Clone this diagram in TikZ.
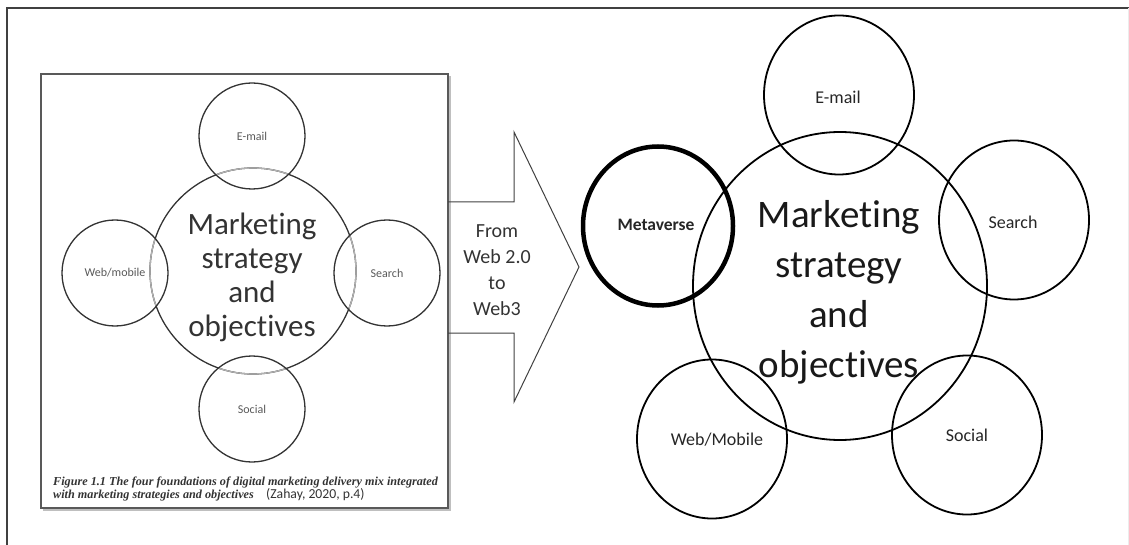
\documentclass[tikz,border=0pt]{standalone}
\usepackage{fontspec}
\setmainfont[Ligatures=NoCommon]{Carlito}
\newfontfamily\capserif{Liberation Serif}
\usetikzlibrary{shapes.geometric}
\begin{document}
\begin{tikzpicture}[x=1pt,y=-1pt,
  lcirc/.style={circle, draw=black!80, line width=1.3pt, minimum size=106pt, inner sep=0pt},
  rcirc/.style={ellipse, draw=black, line width=1.8pt, minimum width=150pt, minimum height=159pt, inner sep=0pt},
  llabel/.style={font=\fontsize{12}{14}\selectfont, text=black!65},
  rlabel/.style={font=\fontsize{18}{20}\selectfont, text=black!85},
  captxt/.style={anchor=base west, inner sep=0pt, text=black!80}
]
\useasboundingbox (0,0) rectangle (1129,545);
% outer frame
\draw[line width=1.4pt, black!75] (7,545) -- (7,8) -- (1129,8);
\draw[gray!15] (1128,8) -- (1128,545);
% left picture box
\draw[line width=1.2pt, gray!50] (43,510) -- (450,510) -- (450,76);
\node[draw=black!65, line width=1.5pt, minimum width=407pt, minimum height=434pt, inner sep=0pt] (box) at (244.5,291) {};
% left diagram
\node[circle, draw=black!80, line width=1.3pt, minimum size=206pt, inner sep=0pt] (lmain) at (253,271) {};
\begin{scope}
  \clip (252,136) circle[radius=53pt] (115,273) circle[radius=53pt] (387,273) circle[radius=53pt] (252,409) circle[radius=53pt];
  \draw[gray!60, line width=1.3pt] (253,271) circle[radius=103pt];
\end{scope}
\node[lcirc] (lemail) at (252,136) {};
\node[lcirc] (lweb) at (115,273) {};
\node[lcirc] (lsearch) at (387,273) {};
\node[lcirc] (lsocial) at (252,409) {};
\node[llabel] (lemailt) at (lemail) {E-mail};
\node[llabel] (lwebt) at (lweb) {Web/mobile};
\node[llabel] (lsearcht) at (lsearch) {Search};
\node[llabel] (lsocialt) at (lsocial) {Social};
\node[align=center, font=\fontsize{31}{34}\selectfont, text=black!80, inner sep=0pt] (lmaint) at (252,277) {Marketing\\strategy\\and\\objectives};
% caption
\node[captxt, font=\capserif\bfseries\itshape\fontsize{12.2}{13}\selectfont] (cap1) at (53,485) {Figure 1.1 The four foundations of digital marketing delivery mix integrated};
\node[captxt, font=\capserif\bfseries\itshape\fontsize{12.2}{13}\selectfont] (cap2) at (53,498) {with marketing strategies and objectives};
\node[captxt, font=\fontsize{13.7}{14}\selectfont] (cap3) at (266,498) {(Zahay, 2020, p.4)};
% block arrow
\coordinate (a1) at (448,202);
\coordinate (a2) at (514,202);
\coordinate (a3) at (514,132);
\coordinate (a4) at (579,267);
\coordinate (a5) at (514,402);
\coordinate (a6) at (514,333);
\coordinate (a7) at (448,333);
\draw[line width=1pt, black!75, line join=miter] (a1) -- (a2) -- (a3) -- (a4) -- (a5) -- (a6) -- (a7);
\node[align=center, font=\fontsize{20}{26}\selectfont, text=black!80, inner sep=0pt] (arrt) at (497,270) {From\\Web 2.0\\to\\Web3};
% right diagram
\node[ellipse, draw=black, line width=1.8pt, minimum width=294pt, minimum height=308pt, inner sep=0pt] (rmain) at (840,286) {};
\node[rcirc] (remail) at (839,95) {};
\node[rcirc, line width=4.5pt] (rmeta) at (658,226) {};
\node[rcirc] (rsearch) at (1014,220) {};
\node[rcirc] (rweb) at (712,439) {};
\node[rcirc] (rsocial) at (967,435) {};
\node[rlabel] (remailt) at (838,97) {E-mail};
\node[rlabel, font=\bfseries\fontsize{17.5}{20}\selectfont] (rmetat) at (656,225) {Metaverse};
\node[rlabel] (rsearcht) at (1013,222) {Search};
\node[rlabel] (rwebt) at (717,440) {Web/Mobile};
\node[rlabel] (rsocialt) at (967,435) {Social};
\node[align=center, font=\fontsize{39}{50}\selectfont, text=black!90, inner sep=0pt] (rmaint) at (839,292) {Marketing\\strategy\\and\\objectives};
\end{tikzpicture}
\end{document}
